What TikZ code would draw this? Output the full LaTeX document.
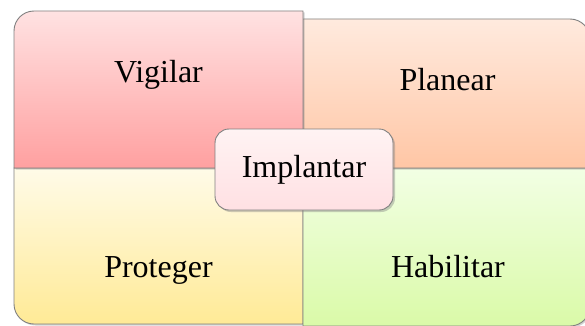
\documentclass[tikz,border=0pt]{standalone}
\usepackage{fontspec}
\setmainfont{Liberation Serif}
\usetikzlibrary{shadows}
\definecolor{vigT}{RGB}{255,226,226}
\definecolor{vigB}{RGB}{255,160,160}
\definecolor{plaT}{RGB}{255,234,222}
\definecolor{plaB}{RGB}{255,198,165}
\definecolor{proT}{RGB}{255,251,232}
\definecolor{proB}{RGB}{255,234,150}
\definecolor{habT}{RGB}{242,255,228}
\definecolor{habB}{RGB}{218,250,168}
\definecolor{impT}{RGB}{255,243,243}
\definecolor{impB}{RGB}{255,224,227}
\definecolor{edge}{RGB}{128,128,128}
\tikzset{
  quad/.style={draw=edge, line width=0.9bp, drop shadow={shadow xshift=1.5bp, shadow yshift=-1.5bp, opacity=0.35}},
  lbl/.style={anchor=base, inner sep=0pt, font=\fontsize{32bp}{38bp}\selectfont},
}
\begin{document}
\begin{tikzpicture}[x=1bp,y=1bp]
\useasboundingbox (0,0) rectangle (585,325);
\fill[white] (0,0) rectangle (585,325);
% Proteger (bottom-left)
\path[quad, top color=proT, bottom color=proB]
  (14,157) -- (303,157) -- (303,1) -- (34,1) arc[start angle=270, end angle=180, radius=20] -- cycle;
% Habilitar (bottom-right)
\path[quad, top color=habT, bottom color=habB]
  (303,157) -- (590,157) -- (590,19) arc[start angle=0, end angle=-90, radius=20] -- (303,-1) -- cycle;
% Planear (top-right)
\path[quad, top color=plaT, bottom color=plaB]
  (303,157) -- (303,306) -- (570,306) arc[start angle=90, end angle=0, radius=20] -- (590,157) -- cycle;
% Vigilar (top-left)
\path[quad, top color=vigT, bottom color=vigB]
  (303,157) -- (14,157) -- (14,294) arc[start angle=180, end angle=90, radius=20] -- (303,314) -- cycle;
\node[lbl] (vig) at (158.5,243) {Vigilar};
\node[lbl] (pla) at (447.5,235) {Planear};
\node[lbl] (pro) at (158.5,48) {Proteger};
\node[lbl] (hab) at (448,48) {Habilitar};
\node[draw=edge, line width=0.9bp, rounded corners=14bp, top color=impT, bottom color=impB,
  minimum width=178bp, minimum height=81bp, inner sep=0pt,
  font=\fontsize{32bp}{38bp}\selectfont,
  drop shadow={shadow xshift=2bp, shadow yshift=-2bp, opacity=0.4}] (imp) at (304,155.5) {Implantar};
\end{tikzpicture}
\end{document}
